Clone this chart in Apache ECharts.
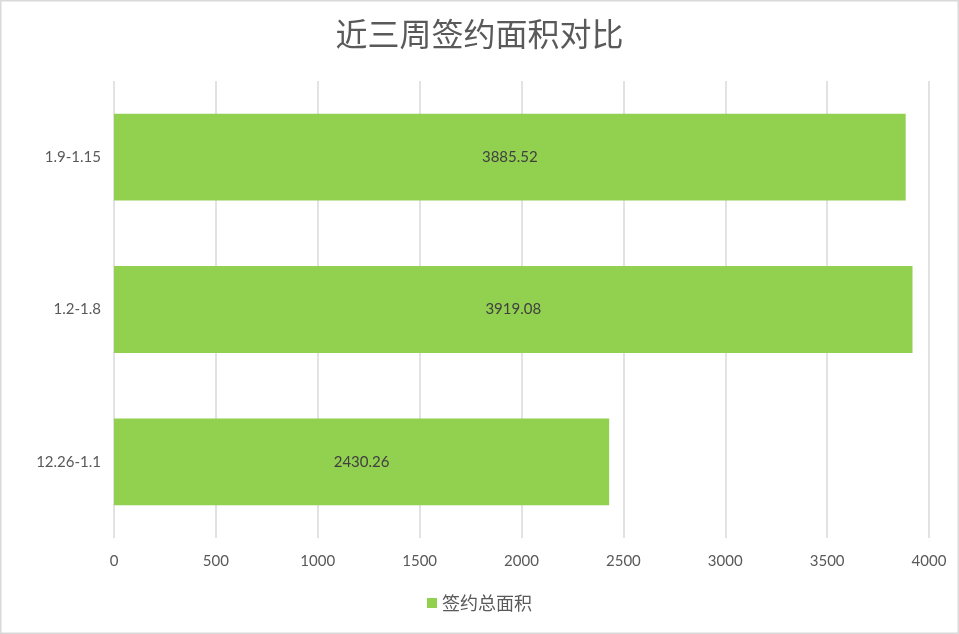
<!DOCTYPE html>
<html>
<head>
<meta charset="utf-8">
<script src="https://cdn.jsdelivr.net/npm/echarts@6/dist/echarts.min.js"></script>
<style>
  html, body { margin: 0; padding: 0; background: #fff; }
  #main { width: 959px; height: 634px; }
</style>
</head>
<body>
<div id="main"></div>
<script>
// 数据
var categories = ['12.26-1.1', '1.2-1.8', '1.9-1.15'];
var areaValues = [2430.26, 3919.08, 3885.52];
var seriesName = '签约总面积';
var xTicks = [0, 500, 1000, 1500, 2000, 2500, 3000, 3500, 4000];

chart1();

function chart1(){
    var option = {
        animation: false,
        backgroundColor: '#fff',
        title: {
            text: '近三周签约面积对比',
            left: 'center',
            top: 13,
            textStyle: {
                color: '#595959',
                fontSize: 32,
                fontWeight: 'normal',
                fontFamily: 'Noto Sans CJK SC'
            }
        },
        legend: {
            bottom: 17,
            left: 'center',
            data: [seriesName],
            itemWidth: 10,
            itemHeight: 10,
            icon: 'rect',
            itemGap: 8,
            textStyle: {
                color: '#595959',
                fontSize: 18,
                fontFamily: 'Noto Sans CJK SC'
            }
        },
        grid: {
            left: 114,
            right: 30,
            top: 81,
            bottom: 96
        },
        xAxis: {
            type: 'value',
            min: xTicks[0],
            max: xTicks[xTicks.length - 1],
            interval: 500,
            axisLine: { show: false },
            axisTick: { show: false },
            axisLabel: {
                margin: 16,
                color: '#595959',
                fontSize: 15,
                fontFamily: 'Lato',
                formatter: function (v) { return String(v); }
            },
            splitLine: {
                show: true,
                lineStyle: { color: '#d9d9d9', width: 1.5 }
            }
        },
        yAxis: {
            type: 'category',
            data: categories,
            axisLine: { show: false },
            axisTick: { show: false },
            axisLabel: {
                margin: 13,
                color: '#595959',
                fontSize: 15,
                fontFamily: 'Lato'
            },
            splitLine: { show: false }
        },
        series: [{
            name: seriesName,
            type: 'bar',
            data: areaValues,
            barCategoryGap: '43%',
            itemStyle: { color: '#92d050' },
            label: {
                show: true,
                position: 'inside',
                color: '#404040',
                fontSize: 15,
                fontFamily: 'Lato',
                formatter: function (p) { return p.value.toFixed(2); }
            }
        }],
        graphic: [{
            type: 'rect',
            shape: { x: 0.75, y: 0.75, width: 957.5, height: 632.5 },
            style: { fill: 'none', stroke: '#d9d9d9', lineWidth: 1.5 },
            silent: true
        }]
    };
    var myChart = echarts.init(document.getElementById('main'));
    myChart.setOption(option);
}
</script>
</body>
</html>
